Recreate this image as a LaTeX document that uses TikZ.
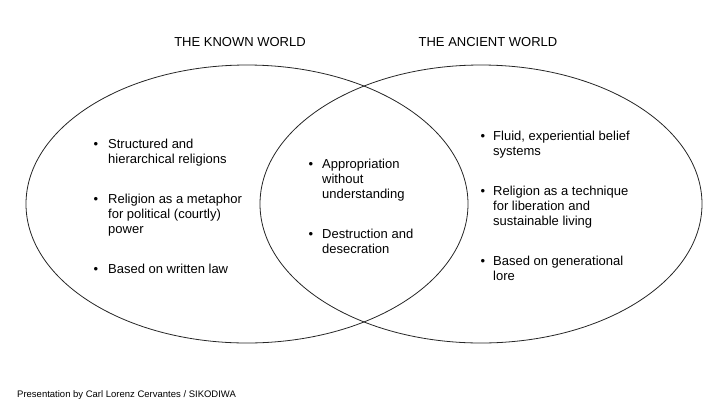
\documentclass[tikz,border=0pt]{standalone}
\usepackage{fontspec}
\setmainfont{Liberation Sans}
\newcommand{\firstbase}[1]{\begin{tabular}[t]{@{}l@{}}#1\end{tabular}}
\begin{document}
\begin{tikzpicture}[x=1pt,y=-1pt,
  venn/.style={draw=black!85,line width=0.8pt},
  title/.style={font=\fontsize{13}{15.4}\selectfont,anchor=base,inner sep=0pt},
  itemtext/.style={font=\fontsize{13}{15.4}\selectfont,anchor=base west,inner sep=0pt},
  dot/.style={font=\fontsize{13}{15.4}\selectfont,anchor=base,inner sep=0pt},
  foot/.style={font=\fontsize{9.5}{11}\selectfont,anchor=base west,inner sep=0pt}]
\useasboundingbox (0,0) rectangle (728,410);
\draw[venn] (247,204) ellipse [x radius=221, y radius=139];
\draw[venn] (481,204) ellipse [x radius=221, y radius=139];
\node[title] (tk) at (240,46) {THE KNOWN WORLD};
\node[title] (ta) at (488,46) {THE ANCIENT WORLD};
% left
\node[dot] (lb1) at (96,148) {•};
\node[itemtext] (l1) at (108,148) {\firstbase{Structured and\\hierarchical religions}};
\node[dot] (lb2) at (96,203) {•};
\node[itemtext] (l2) at (108,203) {\firstbase{Religion as a metaphor\\for political (courtly)\\power}};
\node[dot] (lb3) at (96,273) {•};
\node[itemtext] (l3) at (108,273) {\firstbase{Based on written law}};
% middle
\node[dot] (mb1) at (311,168) {•};
\node[itemtext] (m1) at (322,168) {\firstbase{Appropriation\\without\\understanding}};
\node[dot] (mb2) at (311,238) {•};
\node[itemtext] (m2) at (322,238) {\firstbase{Destruction and\\desecration}};
% right
\node[dot] (rb1) at (483,140) {•};
\node[itemtext] (r1) at (493,140) {\firstbase{Fluid, experiential belief\\systems}};
\node[dot] (rb2) at (483,195) {•};
\node[itemtext] (r2) at (493,195) {\firstbase{Religion as a technique\\for liberation and\\sustainable living}};
\node[dot] (rb3) at (483,265) {•};
\node[itemtext] (r3) at (493,265) {\firstbase{Based on generational\\lore}};
\node[foot] (ft) at (17,397) {Presentation by Carl Lorenz Cervantes / SIKODIWA};
\end{tikzpicture}
\end{document}
